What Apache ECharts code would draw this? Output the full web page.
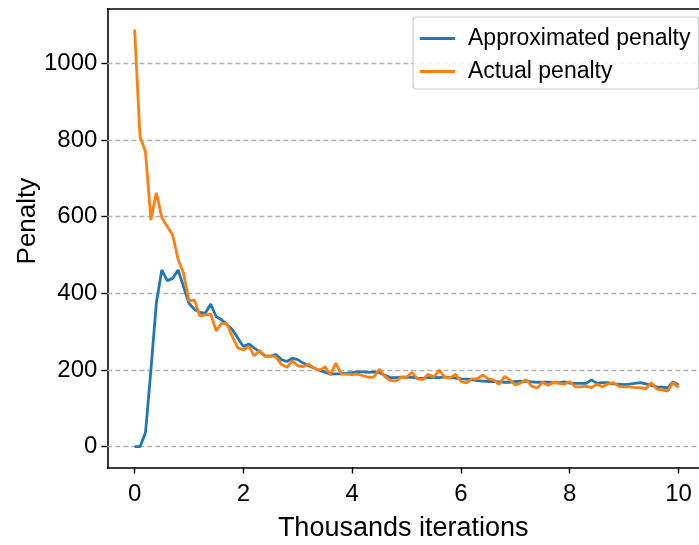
<!DOCTYPE html>
<html>
<head>
<meta charset="utf-8">
<script src="https://cdn.jsdelivr.net/npm/echarts@6/dist/echarts.min.js"></script>
<style>html,body{margin:0;padding:0;background:#fff;}#c{width:699px;height:545px;}</style>
</head>
<body>
<div id="c"></div>
<script>
const iterations = [0,0.1,0.2,0.3,0.4,0.5,0.6,0.7,0.8,0.9,1,1.1,1.2,1.3,1.4,1.5,1.6,1.7,1.8,1.9,2,2.1,2.2,2.3,2.4,2.5,2.6,2.7,2.8,2.9,3,3.1,3.2,3.3,3.4,3.5,3.6,3.7,3.8,3.9,4,4.1,4.2,4.3,4.4,4.5,4.6,4.7,4.8,4.9,5,5.1,5.2,5.3,5.4,5.5,5.6,5.7,5.8,5.9,6,6.1,6.2,6.3,6.4,6.5,6.6,6.7,6.8,6.9,7,7.1,7.2,7.3,7.4,7.5,7.6,7.7,7.8,7.9,8,8.1,8.2,8.3,8.4,8.5,8.6,8.7,8.8,8.9,9,9.1,9.2,9.3,9.4,9.5,9.6,9.7,9.8,9.9,10];
const approximatedPenalty = [0,0,36,200,375,461,433,439,461,417,374,358,350,348,372,339,331,318,305,283,261,268,257,248,237,236,240,227,222,231,227,218,211,205,199,194,189,190,190,192,193,195,195,194,195,193,186,180,180,181,181,181,179,178,180,181,180,182,180,179,177,176,175,172,171,170,170,169,168,168,170,171,170,169,168,168,168,167,167,169,166,165,165,165,174,165,167,167,164,163,162,163,165,167,164,160,156,155,153,169,161];
const actualPenalty = [1088,808,769,591,662,598,574,552,489,452,380,382,341,344,346,302,322,320,286,257,253,261,237,251,235,237,234,214,207,224,211,209,215,205,199,208,188,218,189,189,188,190,185,181,182,202,183,173,171,181,181,194,177,175,189,181,200,181,179,189,170,166,177,177,187,177,174,162,183,174,161,166,175,158,153,168,160,167,165,163,170,156,156,158,154,163,156,164,167,158,156,156,154,154,151,167,150,148,145,167,154];
const xTicks = [0,2,4,6,8,10];
const yTicks = [0,200,400,600,800,1000];

const FONT = '"Liberation Sans", Arial, sans-serif';
const chart = echarts.init(document.getElementById('c'), null, {renderer: 'canvas'});
const pair = (xs, ys) => xs.map((x, i) => [x, ys[i]]);

chart.setOption({
  animation: false,
  backgroundColor: '#fff',
  grid: {left: 107.4, right: 0, top: 8.7, bottom: 77.5, containLabel: false, outerBoundsMode: 'none'},
  legend: {
    orient: 'vertical',
    left: 413, top: 17,
    padding: [10, 8, 6, 7],
    itemGap: 10,
    itemWidth: 35, itemHeight: 3,
    icon: 'rect',
    borderColor: '#c8c8c8', borderWidth: 1.2, borderRadius: 3,
    backgroundColor: 'rgba(255,255,255,0.85)',
    textStyle: {fontFamily: FONT, fontSize: 23, color: '#000', lineHeight: 23, padding: [0,0,0,8]},
    data: ['Approximated penalty', 'Actual penalty']
  },
  xAxis: [{
    type: 'value', min: -0.5, max: 10.377,
    name: 'Thousands iterations', nameLocation: 'middle', nameGap: 48, nameMoveOverlap: false,
    nameTextStyle: {fontFamily: FONT, fontSize: 27, color: '#000'},
    axisLine: {show: true, onZero: false, lineStyle: {color: '#000', width: 1.6}},
    axisTick: {show: true, length: 6, lineStyle: {color: '#000', width: 1.4}, customValues: xTicks},
    axisLabel: {fontFamily: FONT, fontSize: 24, color: '#000', margin: 15, customValues: xTicks, formatter: v => String(v)},
    splitLine: {show: false}
  }, {
    type: 'value', min: -0.5, max: 10.377, position: 'top',
    axisLine: {show: true, onZero: false, lineStyle: {color: '#000', width: 1.6}},
    axisTick: {show: false}, axisLabel: {show: false}, splitLine: {show: false}
  }],
  yAxis: {
    type: 'value', min: -54.4, max: 1142.4,
    name: 'Penalty', nameLocation: 'middle', nameGap: 67, nameRotate: 90, nameMoveOverlap: false,
    nameTextStyle: {fontFamily: FONT, fontSize: 26, color: '#000', padding: [0, 0, 0, 34]},
    axisLine: {show: true, onZero: false, lineStyle: {color: '#000', width: 1.6}},
    axisTick: {show: true, length: 6, lineStyle: {color: '#000', width: 1.4}, customValues: yTicks},
    axisLabel: {fontFamily: FONT, fontSize: 24, color: '#000', margin: 10, customValues: yTicks, formatter: v => String(v)},
    splitLine: {show: false}
  },
  series: [{
    name: 'Approximated penalty', type: 'line',
    data: pair(iterations, approximatedPenalty),
    showSymbol: false, symbol: 'none',
    lineStyle: {color: '#1f77b4', width: 2.8},
    itemStyle: {color: '#1f77b4'},
    z: 3,
    markLine: {
      silent: true, symbol: 'none', z: 1,
      label: {show: false},
      lineStyle: {color: '#b0b0b0', type: [5, 3], width: 1.3},
      data: yTicks.map(v => ({yAxis: v}))
    }
  }, {
    name: 'Actual penalty', type: 'line',
    data: pair(iterations, actualPenalty),
    showSymbol: false, symbol: 'none',
    lineStyle: {color: '#ff7f0e', width: 2.8},
    itemStyle: {color: '#ff7f0e'},
    z: 4
  }]
});
</script>
</body>
</html>
